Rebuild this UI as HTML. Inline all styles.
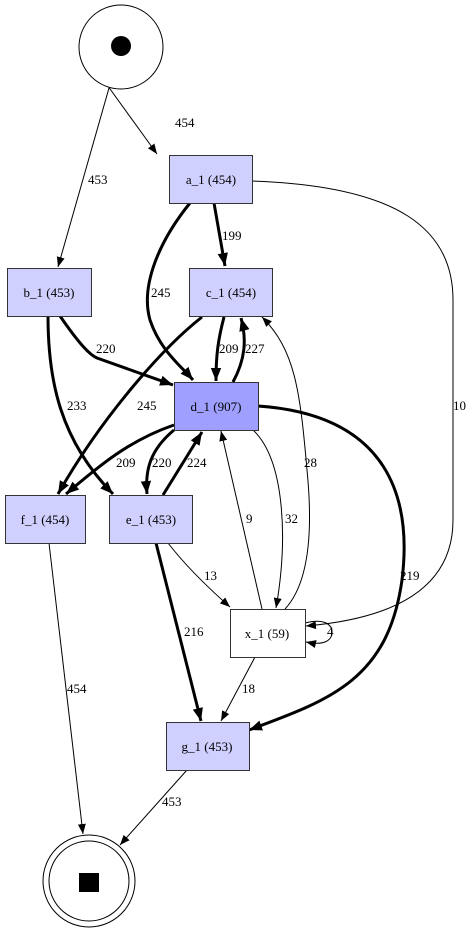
<!DOCTYPE html>
<html><head><meta charset="utf-8"><style>
html,body{margin:0;padding:0;background:#fff;}
svg{display:block;font-family:"Liberation Serif",serif;font-size:13px;}
</style></head><body>
<svg width="476" height="933" viewBox="0 0 476 933" xmlns="http://www.w3.org/2000/svg">
<defs>
<marker id="a" viewBox="0 0 10 10" refX="10" refY="5" markerWidth="10" markerHeight="10" markerUnits="userSpaceOnUse" orient="auto"><path d="M0,1 L10,5 L0,9z" fill="#000"/></marker>
<marker id="b" viewBox="0 0 10 10" refX="10" refY="5" markerWidth="13" markerHeight="13" markerUnits="userSpaceOnUse" orient="auto"><path d="M0,1 L10,5 L0,9z" fill="#000"/></marker>
</defs>
<g fill="none" stroke="#000" stroke-width="1">
<path d="M105,82 L157,154" marker-end="url(#a)"/>
<path d="M109,88 L58,267" marker-end="url(#a)"/>
<path d="M252,181 C400,186 453,230 453,300 L453,520 C453,585 400,618 306,626" marker-end="url(#a)"/>
<path d="M262,609 L221,431" marker-end="url(#a)"/>
<path d="M253,430 C285,460 288,540 276,608" marker-end="url(#a)"/>
<path d="M285,609 C312,580 312,520 307,470 C300,390 295,350 262,317" marker-end="url(#a)"/>
<path d="M168,543 C185,565 205,585 230,607" marker-end="url(#a)"/>
<path d="M255,657 L221,721" marker-end="url(#a)"/>
<path d="M305,623 C325,618 332,625 332,632 C332,640 325,646 306,642" marker-end="url(#a)"/>
<path d="M49,543 L83,834" marker-end="url(#a)"/>
<path d="M187,770 L120,845" marker-end="url(#a)"/>
</g>
<g fill="none" stroke="#000" stroke-width="3">
<path d="M214,203 L225,266" marker-end="url(#b)"/>
<path d="M190,203 C160,240 140,285 150,320 C160,350 180,365 193,380" marker-end="url(#b)"/>
<path d="M60,316 C80,345 90,355 97,358 L173,385" marker-end="url(#b)"/>
<path d="M48,316 C48,380 60,440 113,494" marker-end="url(#b)"/>
<path d="M202,317 C160,350 100,420 58,494" marker-end="url(#b)"/>
<path d="M224,317 C218,340 216,355 216,381" marker-end="url(#b)"/>
<path d="M233,382 C245,360 247,340 241,318" marker-end="url(#b)"/>
<path d="M174,425 C130,440 100,465 66,494" marker-end="url(#b)"/>
<path d="M174,430 C150,450 145,470 147,494" marker-end="url(#b)"/>
<path d="M163,495 L202,432" marker-end="url(#b)"/>
<path d="M258,406 C390,415 412,500 402,580 C388,680 330,700 249,730" marker-end="url(#b)"/>
<path d="M156,543 L201,721" marker-end="url(#b)"/>
</g>
<circle cx="121" cy="47" r="42" fill="#fff" stroke="#000"/>
<circle cx="121" cy="46" r="10" fill="#000"/>
<circle cx="89" cy="881" r="46" fill="#fff" stroke="#000"/>
<circle cx="89" cy="881" r="40" fill="none" stroke="#000"/>
<rect x="79" y="873" width="20" height="19" fill="#000"/>
<g stroke="#333" stroke-width="1">
<rect x="169.5" y="155.5" width="83" height="48" fill="#d0d0ff"/>
<rect x="7.5" y="268.5" width="84" height="48" fill="#d0d0ff"/>
<rect x="189.5" y="268.5" width="83" height="48" fill="#d0d0ff"/>
<rect x="174.5" y="382.5" width="84" height="48" fill="#9f9fff"/>
<rect x="5.5" y="495.5" width="80" height="48" fill="#d0d0ff"/>
<rect x="109.5" y="495.5" width="83" height="48" fill="#d0d0ff"/>
<rect x="230.5" y="609.5" width="75" height="48" fill="#fff"/>
<rect x="166.5" y="722.5" width="83" height="48" fill="#d0d0ff"/>
</g>
<g text-anchor="middle" fill="#000">
<text x="211" y="184">a_1 (454)</text>
<text x="49" y="297">b_1 (453)</text>
<text x="231" y="297">c_1 (454)</text>
<text x="216" y="411">d_1 (907)</text>
<text x="45" y="524">f_1 (454)</text>
<text x="151" y="524">e_1 (453)</text>
<text x="267" y="638">x_1 (59)</text>
<text x="207" y="751">g_1 (453)</text>
</g>
<g fill="#000">
<text x="175" y="127">454</text>
<text x="88" y="184">453</text>
<text x="222" y="240">199</text>
<text x="151" y="297">245</text>
<text x="96" y="353">220</text>
<text x="67" y="410">233</text>
<text x="137" y="410">245</text>
<text x="219" y="353">209</text>
<text x="245" y="353">227</text>
<text x="116" y="467">209</text>
<text x="152" y="467">220</text>
<text x="187" y="467">224</text>
<text x="453" y="410">10</text>
<text x="246" y="523">9</text>
<text x="285" y="523">32</text>
<text x="304" y="467">28</text>
<text x="204" y="580">13</text>
<text x="400" y="580">219</text>
<text x="184" y="636">216</text>
<text x="327" y="636">4</text>
<text x="242" y="693">18</text>
<text x="67" y="693">454</text>
<text x="162" y="806">453</text>
</g>
</svg>
</body></html>
